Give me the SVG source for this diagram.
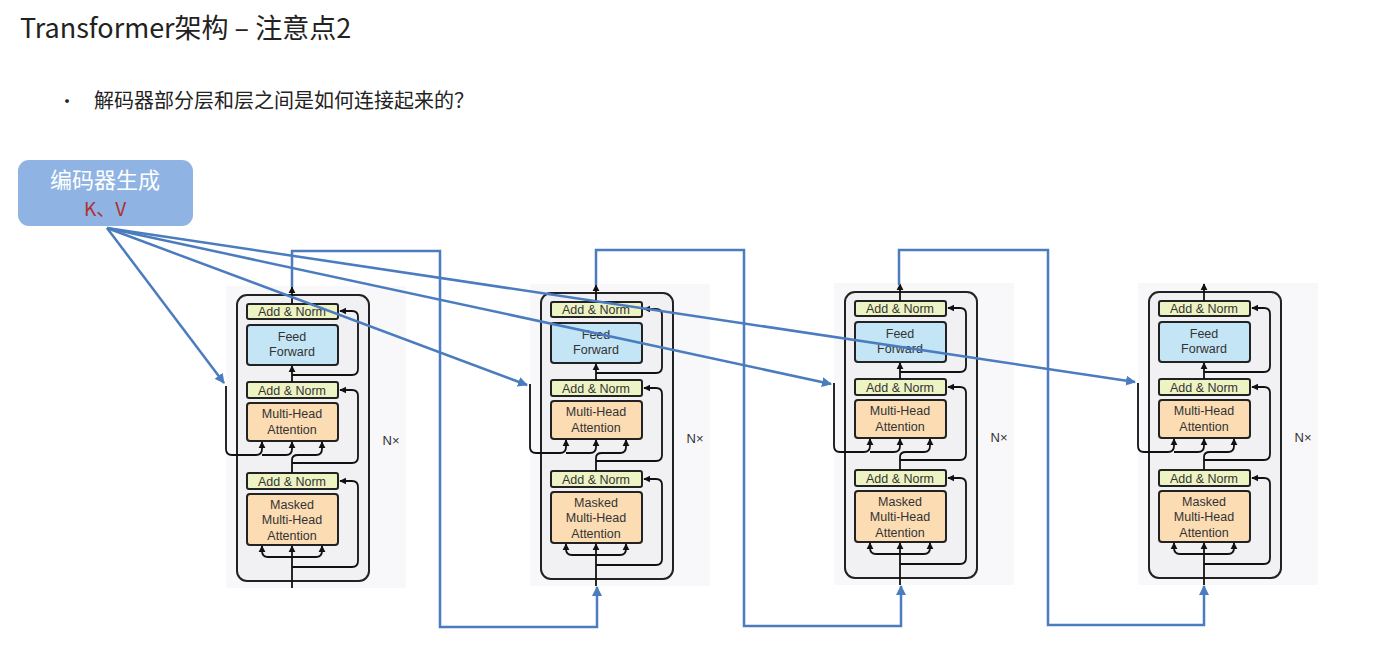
<svg xmlns="http://www.w3.org/2000/svg" width="1389" height="657" viewBox="0 0 1389 657">
<style>
.t{font-family:"Liberation Sans",Arial,sans-serif;font-size:12.5px;fill:#333;text-anchor:middle}
.an{fill:#eef3c4;stroke:#222;stroke-width:2}
.ff{fill:#c3e5f6;stroke:#222;stroke-width:2}
.mh{fill:#fcdcb3;stroke:#222;stroke-width:2}
.k{fill:none;stroke:#111;stroke-width:1.8}
.b{fill:none;stroke:#4a7cbf;stroke-width:2.5}
</style>
<defs>
<marker id="ka" viewBox="0 0 10 10" refX="9" refY="5" markerWidth="4" markerHeight="4" orient="auto"><path d="M0,0L10,5L0,10z" fill="#111"/></marker>
<marker id="ba" viewBox="0 0 10 10" refX="9" refY="5" markerWidth="4" markerHeight="4" orient="auto"><path d="M0,0L10,5L0,10z" fill="#4a7cbf"/></marker>
<g id="dec">
<rect x="226" y="286" width="180" height="302" fill="#f8f8fa"/>
<rect x="237" y="295" width="132" height="286" rx="10" fill="#f1f1f4" stroke="#222" stroke-width="2"/>
<rect class="an" x="247" y="304" width="91" height="15" rx="2"/>
<text class="t" x="292" y="316">Add &amp; Norm</text>
<rect class="ff" x="247" y="325" width="91" height="40" rx="3"/>
<text class="t" x="292" y="341">Feed</text><text class="t" x="292" y="356">Forward</text>
<rect class="an" x="247" y="382" width="91" height="16" rx="2"/>
<text class="t" x="292" y="395">Add &amp; Norm</text>
<rect class="mh" x="247" y="403" width="91" height="38" rx="3"/>
<text class="t" x="292" y="418">Multi-Head</text><text class="t" x="292" y="434">Attention</text>
<rect class="an" x="247" y="473" width="91" height="16" rx="2"/>
<text class="t" x="292" y="486">Add &amp; Norm</text>
<rect class="mh" x="247" y="494" width="91" height="51" rx="3"/>
<text class="t" x="292" y="509">Masked</text><text class="t" x="292" y="524">Multi-Head</text><text class="t" x="292" y="540">Attention</text>
<text class="t" x="391" y="445" style="font-size:13px">N×</text>
<path class="k" d="M292,588V546" marker-end="url(#ka)"/>
<path class="k" d="M292,557H268Q262,557 262,551V546" marker-end="url(#ka)"/>
<path class="k" d="M292,557H316Q322,557 322,551V546" marker-end="url(#ka)"/>
<path class="k" d="M292,567H352Q358,567 358,561V487Q358,481 352,481H340" marker-end="url(#ka)"/>
<path class="k" d="M292,473V460Q292,455 298,455H316Q322,455 322,449V442" marker-end="url(#ka)"/>
<path class="k" d="M292,463H352Q358,463 358,457V396Q358,390 352,390H340" marker-end="url(#ka)"/>
<path class="k" d="M226,386V449Q226,455 232,455H256Q262,455 262,449V442" marker-end="url(#ka)"/>
<path class="k" d="M262,455H286Q292,455 292,449V442" marker-end="url(#ka)"/>
<path class="k" d="M292,382V366" marker-end="url(#ka)"/>
<path class="k" d="M292,375H352Q358,375 358,369V317Q358,311 352,311H340" marker-end="url(#ka)"/>
<path class="k" d="M292,304V287" marker-end="url(#ka)"/>
</g>
</defs>
<text x="20" y="38" style="font-family:'Noto Sans CJK SC','Noto Sans',sans-serif;font-size:27px;fill:#222">Transformer架构 – 注意点2</text>
<text x="58" y="108" style="font-family:'Noto Sans CJK SC',sans-serif;font-size:18px;fill:#222">•</text>
<text x="94" y="108" style="font-family:'Noto Sans CJK SC',sans-serif;font-size:20px;fill:#222">解码器部分层和层之间是如何连接起来的？</text>
<g id="encoder-kv">
<rect x="18" y="160" width="175" height="66" rx="11" fill="#8fb4e3"/>
<text x="105" y="188" text-anchor="middle" style="font-family:'Noto Sans CJK SC',sans-serif;font-size:22px;fill:#fff">编码器生成</text>
<text x="105" y="216" text-anchor="middle" style="font-family:'Noto Sans CJK SC',sans-serif;font-size:19px;fill:#b03030">K、V</text>
</g>
<g id="decoder1"><use href="#dec"/></g>
<g id="decoder2"><use href="#dec" transform="translate(304,-2)"/></g>
<g id="decoder3"><use href="#dec" transform="translate(608,-3)"/></g>
<g id="decoder4"><use href="#dec" transform="translate(912,-3)"/></g>
<g id="connectors">
<path class="b" d="M107,228L224,383" marker-end="url(#ba)"/>
<path class="b" d="M107,228L527,385" marker-end="url(#ba)"/>
<path class="b" d="M107,228L831,384" marker-end="url(#ba)"/>
<path class="b" d="M107,228L1135,382" marker-end="url(#ba)"/>
<path class="b" d="M292,287V251H440V627H597V587" marker-end="url(#ba)"/>
<path class="b" d="M596,285V250H744V626H901V586" marker-end="url(#ba)"/>
<path class="b" d="M899,285V250H1048V625H1204V586" marker-end="url(#ba)"/>
</g>
</svg>
